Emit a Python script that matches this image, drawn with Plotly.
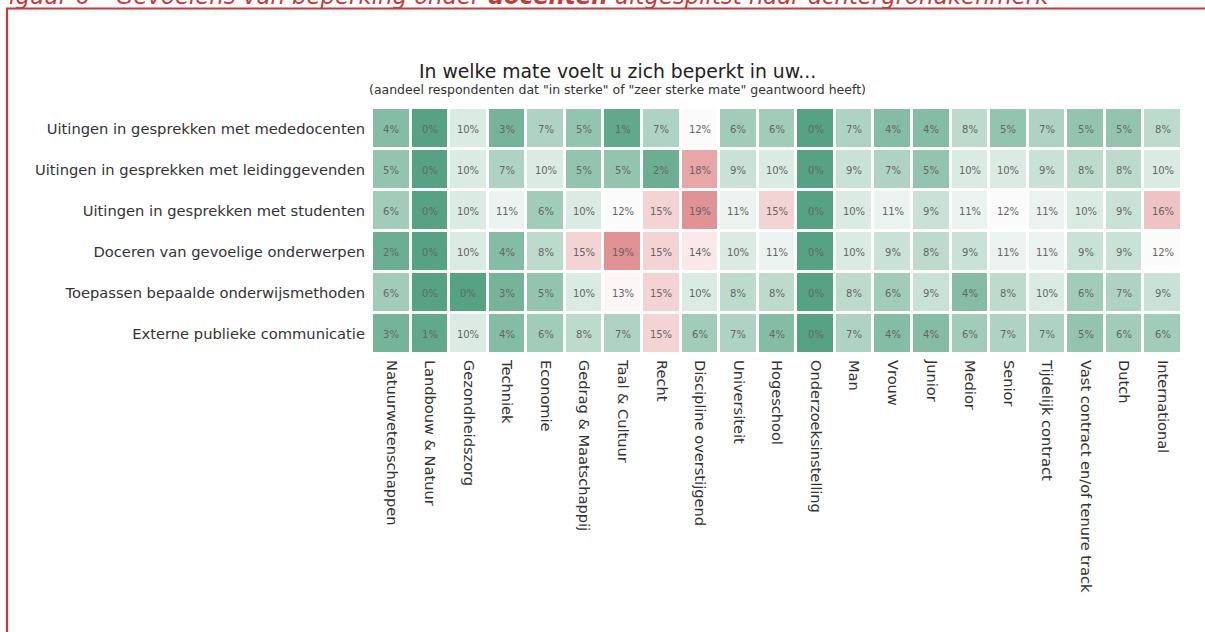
import plotly.graph_objects as go

categories = ["Natuurwetenschappen", "Landbouw & Natuur", "Gezondheidszorg", "Techniek", "Economie",
              "Gedrag & Maatschappij", "Taal & Cultuur", "Recht", "Discipline overstijgend", "Universiteit",
              "Hogeschool", "Onderzoeksinstelling", "Man", "Vrouw", "Junior", "Medior", "Senior",
              "Tijdelijk contract", "Vast contract en/of tenure track", "Dutch", "International"]

rows = ["Uitingen in gesprekken met mededocenten",
        "Uitingen in gesprekken met leidinggevenden",
        "Uitingen in gesprekken met studenten",
        "Doceren van gevoelige onderwerpen",
        "Toepassen bepaalde onderwijsmethoden",
        "Externe publieke communicatie"]

mededocenten    = [4, 0, 10, 3, 7, 5, 1, 7, 12, 6, 6, 0, 7, 4, 4, 8, 5, 7, 5, 5, 8]
leidinggevenden = [5, 0, 10, 7, 10, 5, 5, 2, 18, 9, 10, 0, 9, 7, 5, 10, 10, 9, 8, 8, 10]
studenten       = [6, 0, 10, 11, 6, 10, 12, 15, 19, 11, 15, 0, 10, 11, 9, 11, 12, 11, 10, 9, 16]
gevoelig        = [2, 0, 10, 4, 8, 15, 19, 15, 14, 10, 11, 0, 10, 9, 8, 9, 11, 11, 9, 9, 12]
methoden        = [6, 0, 0, 3, 5, 10, 13, 15, 10, 8, 8, 0, 8, 6, 9, 4, 8, 10, 6, 7, 9]
extern          = [3, 1, 10, 4, 6, 8, 7, 15, 6, 7, 4, 0, 7, 4, 4, 6, 7, 7, 5, 6, 6]

z = [mededocenten, leidinggevenden, studenten, gevoelig, methoden, extern]

W, H = 1205, 632
L, R, T, B = 372, 23, 108, 278
pw, ph = W - L - R, H - T - B

def px(x):
    return (x - L) / pw

def py(y):
    return 1 - (y - T) / ph

zmin, zmax = 0, 19
colorscale = [
    [0 / 19, "#55a383"],
    [3 / 19, "#76b49a"],
    [6 / 19, "#a1ccba"],
    [9 / 19, "#c9e2d7"],
    [10 / 19, "#d9ebe3"],
    [11 / 19, "#eaf3ef"],
    [12 / 19, "#fbfbfb"],
    [13 / 19, "#fcf6f6"],
    [14 / 19, "#fbe8e9"],
    [15 / 19, "#f4d3d4"],
    [16 / 19, "#efc3c4"],
    [18 / 19, "#e8a6a7"],
    [19 / 19, "#e09294"],
]

FONT = "DejaVu Sans"
RED = "#c8393b"

fig = go.Figure(go.Heatmap(
    z=z, x=categories, y=rows,
    zmin=zmin, zmax=zmax, colorscale=colorscale, showscale=False,
    xgap=3, ygap=3,
    texttemplate="%{z}%", textfont=dict(family=FONT, size=10, color="#666666"),
    hoverinfo="skip",
))

fig.update_layout(
    width=W, height=H,
    margin=dict(l=L, r=R, t=T, b=B, autoexpand=False),
    paper_bgcolor="white", plot_bgcolor="white",
    font=dict(family=FONT, color="#333333"),
    xaxis=dict(side="bottom", tickangle=90, tickfont=dict(size=14.6, color="#333333"),
               showgrid=False, zeroline=False, ticks="", ticklen=0, ticklabelstandoff=5),
    yaxis=dict(autorange="reversed", tickfont=dict(size=14.7, color="#333333"),
               showgrid=False, zeroline=False, ticks="", ticklen=0, ticklabelstandoff=6),
    shapes=[dict(type="rect", xref="paper", yref="paper",
                 x0=px(7), x1=px(1230), y0=py(8.5), y1=py(660),
                 line=dict(color=RED, width=2.2), fillcolor="rgba(0,0,0,0)", layer="above")],
    annotations=[
        dict(text="In welke mate voelt u zich beperkt in uw...", xref="paper", yref="paper",
             x=px(617), y=py(71), xanchor="center", yanchor="middle", showarrow=False,
             font=dict(family=FONT, size=18.8, color="#222222")),
        dict(text="(aandeel respondenten dat \"in sterke\" of \"zeer sterke mate\" geantwoord heeft)",
             xref="paper", yref="paper",
             x=px(617), y=py(89), xanchor="center", yanchor="middle", showarrow=False,
             font=dict(family=FONT, size=12.5, color="#333333")),
        dict(text="<i>Figuur 6 – Gevoelens van beperking onder <b>docenten</b> uitgesplitst naar achtergrondkenmerk</i>",
             xref="paper", yref="paper",
             x=px(-6), y=py(-4), xanchor="left", yanchor="middle", showarrow=False,
             font=dict(family=FONT, size=22.8, color=RED)),
    ],
)

fig.write_html("out.html", config={"displayModeBar": False},
               post_script="document.body.style.margin='0';document.body.style.overflow='hidden';"
                           "document.documentElement.style.overflow='hidden';")
